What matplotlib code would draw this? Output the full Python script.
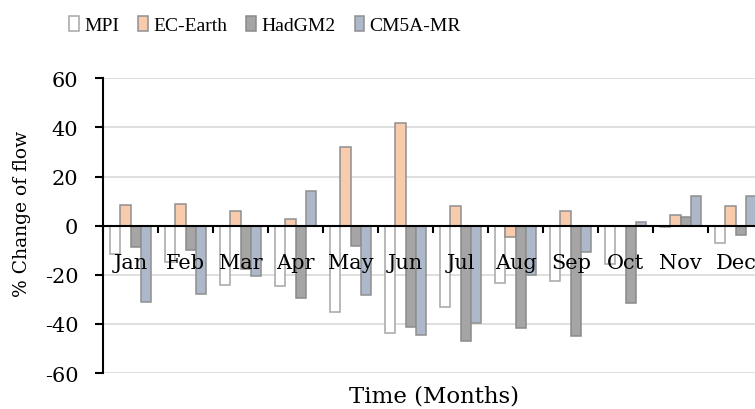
import matplotlib
matplotlib.use("Agg")
import matplotlib.pyplot as plt
import matplotlib.transforms as mtransforms
import numpy as np
from matplotlib.patches import Patch

months = ["Jan", "Feb", "Mar", "Apr", "May", "Jun", "Jul", "Aug", "Sep", "Oct", "Nov", "Dec"]
series_names = ["MPI", "EC-Earth", "HadGM2", "CM5A-MR"]
mpi = [-11.5, -14.7, -24.0, -24.4, -35.3, -43.8, -33.3, -23.3, -22.4, -15.6, -0.7, -7.2]
ec_earth = [8.6, 8.8, 5.8, 2.7, 32.2, 41.7, 7.8, -4.5, 5.8, 0.0, 4.5, 7.9]
hadgm2 = [-8.5, -9.9, -17.6, -29.3, -8.4, -41.1, -47.1, -41.5, -44.8, -31.6, 3.4, -3.7]
cm5a_mr = [-31.2, -28.0, -20.4, 14.3, -28.1, -44.4, -39.5, -20.1, -10.6, 1.4, 12.2, 12.0]
yticks = [-60, -40, -20, 0, 20, 40, 60]

data = [mpi, ec_earth, hadgm2, cm5a_mr]
fills = ["#ffffff", "#f8cbad", "#a5a5a5", "#adb9ca"]
edges = ["#a6a6a6", "#8f8f8f", "#8a8a8a", "#8f8f8f"]

plt.rcParams['font.family'] = ['DejaVu Serif']

W, H = 755, 410
fig = plt.figure(figsize=(W / 100, H / 100), dpi=100)
left, right = 103.3, 763.3
top, bottom = 79.3, 374.0
ax = fig.add_axes([left / W, 1 - bottom / H, (right - left) / W, (bottom - top) / H])

x = np.arange(len(months))
bw = 0.1875
for i, (vals, fc, ec) in enumerate(zip(data, fills, edges)):
    ax.bar(x + 0.5 + (i - 1.5) * bw, vals, width=bw, color=fc, edgecolor=ec,
           linewidth=1.1, zorder=3)

ax.set_xlim(0, 12)
ax.set_ylim(-60, 60)
ax.set_yticks(yticks)
ax.set_yticklabels([str(v) for v in yticks])
ax.yaxis.grid(True, color="#d9d9d9", linewidth=1.2, zorder=0)
ax.set_axisbelow(True)

for s in ["top", "right"]:
    ax.spines[s].set_visible(False)
ax.spines["bottom"].set_position(("data", 0))
ax.spines["bottom"].set_color("black")
ax.spines["bottom"].set_linewidth(1.5)
ax.spines["bottom"].set_zorder(4)
ax.spines["left"].set_color("black")
ax.spines["left"].set_linewidth(1.5)

ax.set_xticks(np.arange(0, 13))
ax.set_xticklabels([])
ax.tick_params(axis="x", which="major", direction="out", length=5, width=1.5, color="black")
ax.tick_params(axis="y", direction="out", length=6, width=1.5, pad=12, labelsize=15)

# month labels drawn on top of the bars
lab_tr = mtransforms.offset_copy(ax.transData, fig=fig, x=0, y=-42, units="dots")
for xi, m in zip(x, months):
    ax.text(xi + 0.5, 0, m, transform=lab_tr, ha="center", va="baseline",
            fontsize=15, zorder=6, clip_on=False)

fig.text(22 / W, 1 - 214 / H, "% Change of flow", rotation=90, ha="center",
         va="center", fontsize=13.5)
fig.text(434 / W, 1 - 403 / H, "Time (Months)", ha="center", va="baseline", fontsize=16.5)

handles = [Patch(facecolor=fc, edgecolor=ec, linewidth=1.1) for fc, ec in zip(fills, edges)]
fig.legend(handles, series_names, loc="center", bbox_to_anchor=(265 / W, 1 - 26 / H),
           ncol=4, frameon=False, handlelength=0.5, handleheight=0.8,
           handletextpad=0.25, columnspacing=1.0,
           prop={"family": ["Liberation Serif"], "size": 14})

fig.savefig("out.png", dpi=100)
